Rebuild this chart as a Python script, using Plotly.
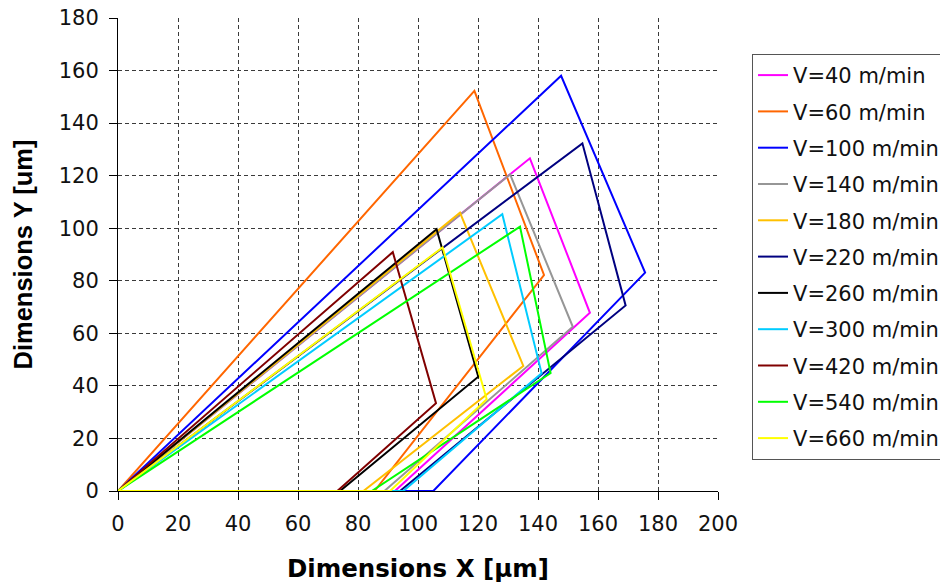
import plotly.graph_objects as go

names = ["V=40 m/min", "V=60 m/min", "V=100 m/min", "V=140 m/min", "V=180 m/min",
         "V=220 m/min", "V=260 m/min", "V=300 m/min", "V=420 m/min", "V=540 m/min",
         "V=660 m/min"]
colors = ["#FF00FF", "#FF6600", "#0000FF", "#969696", "#FFC000",
          "#000080", "#000000", "#00CCFF", "#800000", "#00FF00", "#FFFF00"]

# Apex of the profile (top corner)
apex_x = [137.3, 118.8, 147.7, 130.7, 114.0, 154.8, 106.2, 128.1, 91.6, 134.0, 108.2]
apex_y = [126.6, 152.3, 158.0, 120.5, 105.9, 132.3, 99.6, 105.3, 90.9, 100.6, 92.7]
# Right corner
right_x = [157.3, 142.0, 175.7, 151.6, 135.1, 169.2, 120.1, 141.2, 106.0, 144.2, 122.9]
right_y = [67.8, 82.2, 83.1, 62.5, 47.6, 70.6, 43.5, 44.8, 33.4, 44.9, 34.9]
# Bottom corner on the X axis
base_x = [92.3, 85.5, 105.1, 88.8, 81.8, 94.0, 74.0, 95.1, 73.1, 84.6, 90.7]

fig = go.Figure()
for i, n in enumerate(names):
    fig.add_trace(go.Scatter(
        x=[0, apex_x[i], right_x[i], base_x[i], 0],
        y=[0, apex_y[i], right_y[i], 0, 0],
        mode="lines", name=n, legendgroup=n,
        line=dict(color=colors[i], width=2),
    ))

font = "DejaVu Sans, sans-serif"
title_font_x = "DejaVu Sans, sans-serif"
title_font_y = "Liberation Sans, Arial, sans-serif"
fig.update_layout(
    width=940, height=588,
    margin=dict(l=118, r=222, t=18, b=97, autoexpand=False),
    paper_bgcolor="white", plot_bgcolor="white",
    font=dict(family=font, color="#000000"),
    showlegend=True,
    legend=dict(
        x=1.0567, xanchor="left", y=0.924, yanchor="top",
        bgcolor="white", bordercolor="#555555", borderwidth=1,
        font=dict(size=21, family=font, color="#111111"),
        tracegroupgap=6, itemwidth=30,
    ),
    xaxis=dict(
        range=[0, 200], tickvals=list(range(0, 201, 20)),
        showgrid=True, gridcolor="#3a3a3a", griddash="4px,3px", gridwidth=1,
        showline=True, linecolor="#000000", linewidth=1,
        ticks="outside", ticklen=8, tickcolor="#000000",
        ticklabelstandoff=6, ticklabeloverflow="allow",
        tickfont=dict(size=21, family=font, color="#111111"),
        title=dict(text="<b>Dimensions X [µm]</b>", font=dict(size=24.5, family=title_font_x), standoff=24),
        zeroline=False,
    ),
    yaxis=dict(
        range=[0, 180], tickvals=list(range(0, 181, 20)),
        showgrid=True, gridcolor="#3a3a3a", griddash="4px,3px", gridwidth=1,
        showline=True, linecolor="#000000", linewidth=1,
        ticks="outside", ticklen=8, tickcolor="#000000",
        ticklabelstandoff=6, ticklabeloverflow="allow",
        tickfont=dict(size=21, family=font, color="#111111"),
        title=dict(text="<b>Dimensions Y [um]</b>", font=dict(size=25.5, family=title_font_y), standoff=18),
        zeroline=False,
    ),
)
fig.write_html(
    "out.html",
    config={"displayModeBar": False},
    post_script="document.body.style.margin='0';document.body.style.overflow='hidden';",
)
